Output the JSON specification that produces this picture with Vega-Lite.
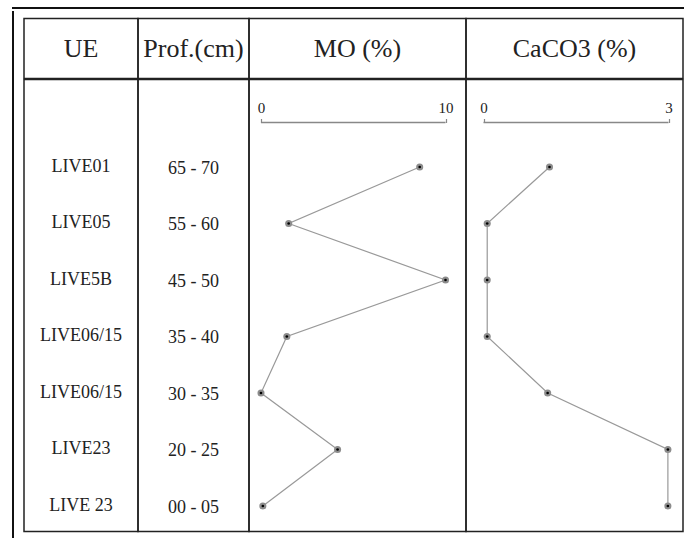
{
  "$schema": "https://vega.github.io/schema/vega-lite/v6.json",
  "padding": {"left": 11, "top": 6, "right": 0, "bottom": 0},
  "background": "white",
  "datasets": {
    "d": [
      {"UE": "LIVE01", "Prof": "65 - 70", "MO": 8.6, "CaCO3": 1.07},
      {"UE": "LIVE05", "Prof": "55 - 60", "MO": 1.5, "CaCO3": 0.06},
      {"UE": "LIVE5B", "Prof": "45 - 50", "MO": 10.0, "CaCO3": 0.06},
      {"UE": "LIVE06/15", "Prof": "35 - 40", "MO": 1.4, "CaCO3": 0.06},
      {"UE": "LIVE06/15", "Prof": "30 - 35", "MO": 0.0, "CaCO3": 1.04},
      {"UE": "LIVE23", "Prof": "20 - 25", "MO": 4.15, "CaCO3": 2.99},
      {"UE": "LIVE 23", "Prof": "00 - 05", "MO": 0.1, "CaCO3": 2.99}
    ]
  },
  "config": {
    "font": "Liberation Serif",
    "view": {"stroke": "#222", "strokeWidth": 1.5},
    "concat": {"spacing": 0},
    "text": {"font": "Liberation Serif", "color": "#222"}
  },
  "spacing": 0,
  "vconcat": [
    {"width": 673, "height": 0.001, "view": {"stroke": "#111", "strokeWidth": 2}, "data": {"values": [{}]}, "mark": {"type": "rule", "opacity": 0}, "encoding": {}},
    {
      "spacing": 8,
      "hconcat": [
        {"width": 0.001, "height": 531, "view": {"stroke": "#111", "strokeWidth": 2}, "data": {"values": [{}]}, "mark": {"type": "rule", "opacity": 0}, "encoding": {}},
        {
          "spacing": 4.5,
          "vconcat": [
            {"width": 0.001, "height": 0.001, "view": {"stroke": null}, "data": {"values": [{}]}, "mark": {"type": "rule", "opacity": 0}, "encoding": {}},
            {
              "spacing": -1.5,
              "vconcat": [
                {
                  "spacing": 0,
                  "bounds": "flush",
                  "hconcat": [
                    {"width": 114, "height": 60, "view": {"stroke": "#222", "strokeWidth": 1.5}, "data": {"values": [{}]}, "mark": {"type": "text", "text": "UE", "fontSize": 26}, "encoding": {}},
                    {"width": 111, "height": 60, "view": {"stroke": "#222", "strokeWidth": 1.5}, "data": {"values": [{}]}, "mark": {"type": "text", "text": "Prof.(cm)", "fontSize": 26}, "encoding": {}},
                    {"width": 217, "height": 60, "view": {"stroke": "#222", "strokeWidth": 1.5}, "data": {"values": [{}]}, "mark": {"type": "text", "text": "MO (%)", "fontSize": 26}, "encoding": {}},
                    {"width": 217, "height": 60, "view": {"stroke": "#222", "strokeWidth": 1.5}, "data": {"values": [{}]}, "mark": {"type": "text", "text": "CaCO3 (%)", "fontSize": 26}, "encoding": {}}
                  ]
                },
                {
                  "spacing": 0,
                  "bounds": "flush",
                  "hconcat": [
                    {
                      "width": 114, "height": 452,
                      "data": {"name": "d"},
                      "mark": {"type": "text", "fontSize": 18},
                      "encoding": {
                        "y": {"field": "Prof", "type": "ordinal", "scale": {"type": "point", "domain": ["65 - 70", "55 - 60", "45 - 50", "35 - 40", "30 - 35", "20 - 25", "00 - 05"], "padding": 1.055, "align": 0.774}, "axis": null},
                        "text": {"field": "UE"}
                      }
                    },
                    {
                      "width": 111, "height": 452,
                      "data": {"name": "d"},
                      "mark": {"type": "text", "fontSize": 18, "dy": 2},
                      "encoding": {
                        "y": {"field": "Prof", "type": "ordinal", "scale": {"type": "point", "domain": ["65 - 70", "55 - 60", "45 - 50", "35 - 40", "30 - 35", "20 - 25", "00 - 05"], "padding": 1.055, "align": 0.774}, "axis": null},
                        "text": {"field": "Prof"}
                      }
                    },
                    {
                      "width": 217, "height": 452,
                      "data": {"name": "d"},
                      "resolve": {"scale": {"y": "independent"}},
                      "layer": [
                        {
                          "data": {"values": [{}]},
                          "mark": {"type": "rule", "color": "#888", "strokeWidth": 1.5},
                          "encoding": {
                            "x": {"datum": 0, "type": "quantitative", "scale": {"domain": [-0.65, 11.11], "nice": false, "zero": false},
                              "axis": {"orient": "top", "offset": -43, "values": [0, 10], "format": "d", "domain": false, "grid": false, "tickSize": 4, "tickColor": "#888", "tickWidth": 1.2, "labelFont": "Liberation Serif", "labelFontSize": 15, "labelColor": "#222", "labelPadding": 3, "labelFlush": false, "labelOverlap": false, "title": null}},
                            "x2": {"datum": 10},
                            "y": {"datum": "bar", "type": "nominal", "scale": {"type": "point", "domain": ["bar"], "align": 0.095}, "axis": null}
                          }
                        },
                        {
                          "mark": {"type": "line", "color": "#999", "strokeWidth": 1.2},
                          "encoding": {
                            "x": {"field": "MO", "type": "quantitative"},
                            "y": {"field": "Prof", "type": "ordinal", "scale": {"type": "point", "domain": ["65 - 70", "55 - 60", "45 - 50", "35 - 40", "30 - 35", "20 - 25", "00 - 05"], "padding": 1.055, "align": 0.774}, "axis": null},
                            "order": {"field": "Prof", "sort": "descending"}
                          }
                        },
                        {
                          "mark": {"type": "circle", "color": "#8c8c8c", "size": 50, "opacity": 1},
                          "encoding": {
                            "x": {"field": "MO", "type": "quantitative"},
                            "y": {"field": "Prof", "type": "ordinal", "scale": {"type": "point", "domain": ["65 - 70", "55 - 60", "45 - 50", "35 - 40", "30 - 35", "20 - 25", "00 - 05"], "padding": 1.055, "align": 0.774}, "axis": null}
                          }
                        },
                        {
                          "mark": {"type": "circle", "color": "#000", "size": 7, "opacity": 1},
                          "encoding": {
                            "x": {"field": "MO", "type": "quantitative"},
                            "y": {"field": "Prof", "type": "ordinal", "scale": {"type": "point", "domain": ["65 - 70", "55 - 60", "45 - 50", "35 - 40", "30 - 35", "20 - 25", "00 - 05"], "padding": 1.055, "align": 0.774}, "axis": null}
                          }
                        }
                      ]
                    },
                    {
                      "width": 217, "height": 452,
                      "data": {"name": "d"},
                      "resolve": {"scale": {"y": "independent"}},
                      "layer": [
                        {
                          "data": {"values": [{}]},
                          "mark": {"type": "rule", "color": "#888", "strokeWidth": 1.5},
                          "encoding": {
                            "x": {"datum": 0, "type": "quantitative", "scale": {"domain": [-0.284, 3.235], "nice": false, "zero": false},
                              "axis": {"orient": "top", "offset": -43, "values": [0, 3], "format": "d", "domain": false, "grid": false, "tickSize": 4, "tickColor": "#888", "tickWidth": 1.2, "labelFont": "Liberation Serif", "labelFontSize": 15, "labelColor": "#222", "labelPadding": 3, "labelFlush": false, "labelOverlap": false, "title": null}},
                            "x2": {"datum": 3},
                            "y": {"datum": "bar", "type": "nominal", "scale": {"type": "point", "domain": ["bar"], "align": 0.095}, "axis": null}
                          }
                        },
                        {
                          "mark": {"type": "line", "color": "#999", "strokeWidth": 1.2},
                          "encoding": {
                            "x": {"field": "CaCO3", "type": "quantitative"},
                            "y": {"field": "Prof", "type": "ordinal", "scale": {"type": "point", "domain": ["65 - 70", "55 - 60", "45 - 50", "35 - 40", "30 - 35", "20 - 25", "00 - 05"], "padding": 1.055, "align": 0.774}, "axis": null},
                            "order": {"field": "Prof", "sort": "descending"}
                          }
                        },
                        {
                          "mark": {"type": "circle", "color": "#8c8c8c", "size": 50, "opacity": 1},
                          "encoding": {
                            "x": {"field": "CaCO3", "type": "quantitative"},
                            "y": {"field": "Prof", "type": "ordinal", "scale": {"type": "point", "domain": ["65 - 70", "55 - 60", "45 - 50", "35 - 40", "30 - 35", "20 - 25", "00 - 05"], "padding": 1.055, "align": 0.774}, "axis": null}
                          }
                        },
                        {
                          "mark": {"type": "circle", "color": "#000", "size": 7, "opacity": 1},
                          "encoding": {
                            "x": {"field": "CaCO3", "type": "quantitative"},
                            "y": {"field": "Prof", "type": "ordinal", "scale": {"type": "point", "domain": ["65 - 70", "55 - 60", "45 - 50", "35 - 40", "30 - 35", "20 - 25", "00 - 05"], "padding": 1.055, "align": 0.774}, "axis": null}
                          }
                        }
                      ]
                    }
                  ]
                }
              ]
            }
          ]
        }
      ]
    }
  ]
}
